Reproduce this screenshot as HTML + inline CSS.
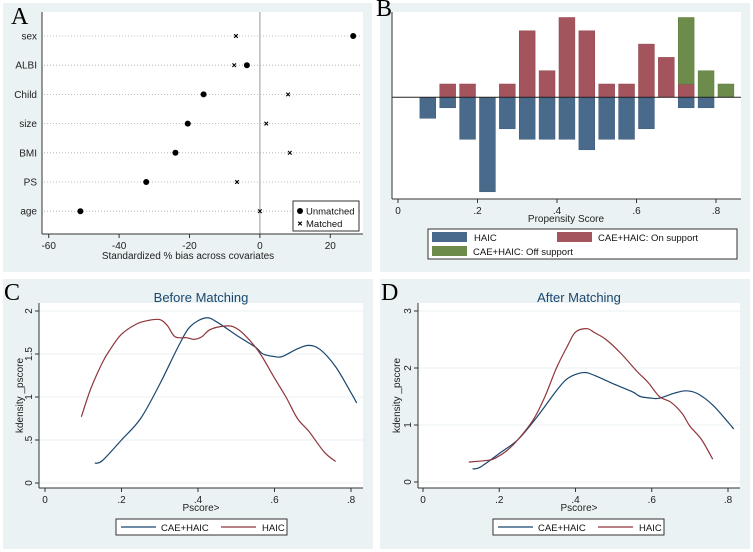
<!DOCTYPE html>
<html><head><meta charset="utf-8"><style>
body{margin:0;background:#fff;width:753px;height:552px;overflow:hidden}
svg{display:block;font-family:"Liberation Sans",sans-serif}
</style></head><body>
<svg id="s" width="753" height="552" viewBox="0 0 753 552"></svg>
<script>
// Panel A data
const covariates=["sex","ALBI","Child","size","BMI","PS","age"];
const unmatchedBias=[26.5,-3.7,-16,-20.5,-24,-32.3,-51];
const matchedBias=[-6.8,-7.3,8,1.8,8.5,-6.5,0];
const aTicks=[-60,-40,-20,0,20];
// Panel B data (bin centers, counts)
const binCenters=[0.075,0.125,0.175,0.225,0.275,0.325,0.375,0.425,0.475,0.525,0.575,0.625,0.675,0.725,0.775,0.825];
const haicCounts=[2,1,4,9,3,4,4,4,5,4,4,3,0,1,1,0];
const onSupportCounts=[0,1,1,0,1,5,2,6,5,1,1,4,3,1,0,0];
const offSupportCounts=[0,0,0,0,0,0,0,0,0,0,0,0,0,5,2,1];
const bTicks=[0,0.2,0.4,0.6,0.8];
const bTickLabels=["0",".2",".4",".6",".8"];
// Panel C/D data
const beforeCaeX=[0.13,0.15,0.2,0.25,0.3,0.35,0.38,0.42,0.45,0.5,0.55,0.57,0.6,0.62,0.66,0.69,0.72,0.76,0.8,0.815];
const beforeCaeY=[0.23,0.26,0.5,0.75,1.15,1.6,1.82,1.92,1.87,1.72,1.58,1.5,1.47,1.47,1.56,1.6,1.55,1.35,1.05,0.93];
const beforeHaicX=[0.095,0.12,0.15,0.17,0.2,0.24,0.27,0.3,0.32,0.34,0.37,0.39,0.41,0.43,0.46,0.49,0.52,0.56,0.6,0.63,0.66,0.69,0.73,0.76];
const beforeHaicY=[0.77,1.1,1.4,1.55,1.73,1.85,1.89,1.9,1.83,1.7,1.69,1.67,1.7,1.78,1.82,1.82,1.73,1.52,1.22,1.0,0.75,0.6,0.36,0.25];
const afterCaeX=beforeCaeX.slice();
const afterCaeY=beforeCaeY.slice();
const afterHaicX=[0.12,0.17,0.19,0.22,0.25,0.29,0.32,0.35,0.38,0.4,0.43,0.45,0.48,0.52,0.56,0.59,0.62,0.65,0.68,0.7,0.73,0.76];
const afterHaicY=[0.35,0.38,0.42,0.55,0.75,1.1,1.5,2.0,2.4,2.63,2.69,2.62,2.5,2.25,1.95,1.75,1.5,1.4,1.2,0.98,0.75,0.4];
const cYTicks=[0,0.5,1,1.5,2];
const cYTickLabels=["0",".5","1","1.5","2"];
const dYTicks=[0,1,2,3];
const dYTickLabels=["0","1","2","3"];

const S=document.getElementById('s');
const NS='http://www.w3.org/2000/svg';
function mk(tag,attrs,parent,text){const e=document.createElementNS(NS,tag);for(const k in attrs)e.setAttribute(k,attrs[k]);if(text!==undefined)e.textContent=text;(parent||S).appendChild(e);return e;}
const BG='#eaf2f3',BLUE='#1a476f',RED='#90353b';

function panel(x,y,w,h,name,letter,lx,ly){
  const g=mk('g',{});
  
  
  mk('rect',{x:x,y:y,width:w,height:h,fill:BG},g);
  const t=mk('text',{x:lx,y:ly,'font-family':'Liberation Serif,serif','font-size':24,fill:'#000'},g,letter);
  
  
  return g;
}

// ---------- Panel A ----------
(function(){
  const g=panel(3,3,369,269,'panel-a-bias-plot','A',11,24);
  const L=42,R=363,T=12,B=234;
  mk('rect',{x:L,y:T,width:R-L,height:B-T,fill:'#fff'},g);
  const xs=v=>259.9+v*3.52;
  const rowY=i=>36+i*29.2;
  mk('line',{x1:xs(0),y1:T,x2:xs(0),y2:B,stroke:'#999','stroke-width':1},g);
  covariates.forEach((c,i)=>{
    const y=rowY(i);
    const ln=mk('line',{x1:L+2,y1:y,x2:R-2,y2:y,stroke:'#aaa','stroke-width':0.8,'stroke-dasharray':'1,2'},g);
    
    
    const t=mk('text',{x:L-5,y:y+3.5,'text-anchor':'end','font-size':10,fill:'#222'},g,c);
    
    
    const d=mk('circle',{cx:xs(unmatchedBias[i]),cy:y,r:3,fill:'#000'},g);
    
    
    const mx=xs(matchedBias[i]);
    const m=mk('path',{d:`M${mx-1.8},${y-1.8}L${mx+1.8},${y+1.8}M${mx-1.8},${y+1.8}L${mx+1.8},${y-1.8}`,stroke:'#000','stroke-width':1.1},g);
    
    
  });
  mk('line',{x1:L,y1:T,x2:L,y2:B,stroke:'#333'},g);
  mk('line',{x1:L,y1:B,x2:R,y2:B,stroke:'#333'},g);
  aTicks.forEach(v=>{
    mk('line',{x1:xs(v),y1:B,x2:xs(v),y2:B+4,stroke:'#333'},g);
    const t=mk('text',{x:xs(v),y:B+15,'text-anchor':'middle','font-size':10,fill:'#222'},g,String(v));
    
    
  });
  const xt=mk('text',{x:188,y:259,'text-anchor':'middle','font-size':10,fill:'#222'},g,'Standardized % bias across covariates');
  
  
  const lg=mk('g',{},g);
  
  
  mk('rect',{x:293,y:201,width:66,height:30,fill:'#fff',stroke:'#333'},lg);
  mk('circle',{cx:300,cy:211,r:3,fill:'#000'},lg);
  mk('text',{x:306,y:214.5,'font-size':9.5,fill:'#111'},lg,'Unmatched');
  mk('path',{d:'M298.2,221.7L301.8,225.3M298.2,225.3L301.8,221.7',stroke:'#000','stroke-width':1.1},lg);
  mk('text',{x:306,y:227,'font-size':9.5,fill:'#111'},lg,'Matched');
})();

// ---------- Panel B ----------
(function(){
  const g=panel(380,3,370,269,'panel-b-propensity-histogram','B',376,16);
  const L=392,R=741,T=12,B=199,base=97.3;
  mk('rect',{x:L,y:T,width:R-L,height:B-T,fill:'#fff'},g);
  const xs=v=>398+v*397.5;
  const redU=13.3,blueU=10.5,bw=0.04*397.5;
  binCenters.forEach((c,i)=>{
    const x=xs(c)-bw/2;
    if(haicCounts[i]>0){const r=mk('rect',{x:x,y:base,width:bw,height:haicCounts[i]*blueU,fill:'#4a6a8c',stroke:'#3c5a7a','stroke-width':0.5},g);}
    if(onSupportCounts[i]>0){const h=onSupportCounts[i]*redU;const r=mk('rect',{x:x,y:base-h,width:bw,height:h,fill:'#a4545c',stroke:'#8f444c','stroke-width':0.5},g);}
    if(offSupportCounts[i]>0){const h0=onSupportCounts[i]*redU,h=offSupportCounts[i]*redU;const r=mk('rect',{x:x,y:base-h0-h,width:bw,height:h,fill:'#6d8c4c',stroke:'#5a7a3c','stroke-width':0.5},g);}
  });
  mk('line',{x1:L,y1:base,x2:R,y2:base,stroke:'#222'},g);
  mk('line',{x1:L,y1:T,x2:L,y2:B,stroke:'#333'},g);
  mk('line',{x1:L,y1:B,x2:R,y2:B,stroke:'#333'},g);
  bTicks.forEach((v,i)=>{
    mk('line',{x1:xs(v),y1:B,x2:xs(v),y2:B+4,stroke:'#333'},g);
    const t=mk('text',{x:xs(v),y:B+15,'text-anchor':'middle','font-size':10,fill:'#222'},g,bTickLabels[i]);
    
    
  });
  const xt=mk('text',{x:566,y:222,'text-anchor':'middle','font-size':10,fill:'#222'},g,'Propensity Score');
  
  
  const lg=mk('g',{},g);
  
  
  mk('rect',{x:428,y:229,width:309,height:30,fill:'#fff',stroke:'#333'},lg);
  mk('rect',{x:432,y:232,width:35,height:10,fill:'#4a6a8c'},lg);
  mk('text',{x:474,y:241,'font-size':9.5,fill:'#111'},lg,'HAIC');
  mk('rect',{x:557,y:232,width:35,height:10,fill:'#a4545c'},lg);
  mk('text',{x:598,y:241,'font-size':9.5,fill:'#111'},lg,'CAE+HAIC: On support');
  mk('rect',{x:432,y:246,width:35,height:10,fill:'#6d8c4c'},lg);
  mk('text',{x:473,y:255,'font-size':9.5,fill:'#111'},lg,'CAE+HAIC: Off support');
})();

// smooth path through points (Catmull-Rom)
function smooth(P){
  let d='M'+P[0][0]+','+P[0][1];
  for(let i=0;i<P.length-1;i++){
    const p0=P[Math.max(0,i-1)],p1=P[i],p2=P[i+1],p3=P[Math.min(P.length-1,i+2)];
    const c1x=p1[0]+(p2[0]-p0[0])/6,c1y=p1[1]+(p2[1]-p0[1])/6;
    const c2x=p2[0]-(p3[0]-p1[0])/6,c2y=p2[1]-(p3[1]-p1[1])/6;
    d+=` C${c1x},${c1y} ${c2x},${c2y} ${p2[0]},${p2[1]}`;
  }
  return d;
}

// ---------- Panels C & D ----------
function kd(ox,L,R,x0,x8,y0,yTop,ymax,yt,ytl,title,name,letter,cx,cy,hx,hy){
  const g=panel(ox,279,370,270,name,letter,ox+1,300);
  const T=303,B=488;
  mk('rect',{x:L,y:T,width:R-L,height:B-T,fill:'#fff'},g);
  const xs=v=>x0+v*(x8-x0)/0.8;
  const ys=v=>y0-v*(y0-yTop)/ymax;
  yt.forEach((v,i)=>{
    mk('line',{x1:L,y1:ys(v),x2:R,y2:ys(v),stroke:BG,'stroke-width':1},g);
    mk('line',{x1:L,y1:ys(v),x2:L-4,y2:ys(v),stroke:'#333'},g);
    const t=mk('text',{x:L-7,y:ys(v),'text-anchor':'middle','font-size':10,fill:'#222',transform:`rotate(-90 ${L-7} ${ys(v)})`},g,ytl[i]);
    
    
  });
  bTicks.forEach((v,i)=>{
    mk('line',{x1:xs(v),y1:B,x2:xs(v),y2:B+4,stroke:'#333'},g);
    const t=mk('text',{x:xs(v),y:B+15,'text-anchor':'middle','font-size':10,fill:'#222'},g,bTickLabels[i]);
    
    
  });
  mk('line',{x1:L,y1:T,x2:L,y2:B,stroke:'#333'},g);
  mk('line',{x1:L,y1:B,x2:R,y2:B,stroke:'#333'},g);
  const line=(X,Y,col,nm)=>{const p=mk('path',{d:smooth(X.map((v,i)=>[xs(v),ys(Y[i])])),fill:'none',stroke:col,'stroke-width':1.2,'stroke-linejoin':'round'},g);};
  line(cx,cy,BLUE,'cae-haic-line');
  line(hx,hy,RED,'haic-line');
  const tt=mk('text',{x:(L+R)/2,y:302,'text-anchor':'middle','font-size':13,fill:'#1a476f'},g,title);
  
  
  const yl=mk('text',{x:ox+20,y:(T+B)/2,'text-anchor':'middle','font-size':10,fill:'#222',transform:`rotate(-90 ${ox+20} ${(T+B)/2})`},g,'kdensity _pscore');
  
  
  const xl=mk('text',{x:(L+R)/2,y:511,'text-anchor':'middle','font-size':10,fill:'#222'},g,'Pscore>');
  
  
  const lx=ox+113;
  const lg=mk('g',{},g);
  
  
  mk('rect',{x:lx,y:519,width:171,height:16,fill:'#fff',stroke:'#333'},lg);
  mk('line',{x1:lx+5,y1:527,x2:lx+40,y2:527,stroke:BLUE,'stroke-width':1.2},lg);
  mk('text',{x:lx+45,y:531,'font-size':9.5,fill:'#111'},lg,'CAE+HAIC');
  mk('line',{x1:lx+105,y1:527,x2:lx+140,y2:527,stroke:RED,'stroke-width':1.2},lg);
  mk('text',{x:lx+146,y:531,'font-size':9.5,fill:'#111'},lg,'HAIC');
}
kd(3,39,363,45,351,483,311,2,cYTicks,cYTickLabels,'Before Matching','panel-c-before-matching','C',beforeCaeX,beforeCaeY,beforeHaicX,beforeHaicY);
kd(380,418,740,423,728,482,311,3,dYTicks,dYTickLabels,'After Matching','panel-d-after-matching','D',afterCaeX,afterCaeY,afterHaicX,afterHaicY);
</script>
</body></html>
